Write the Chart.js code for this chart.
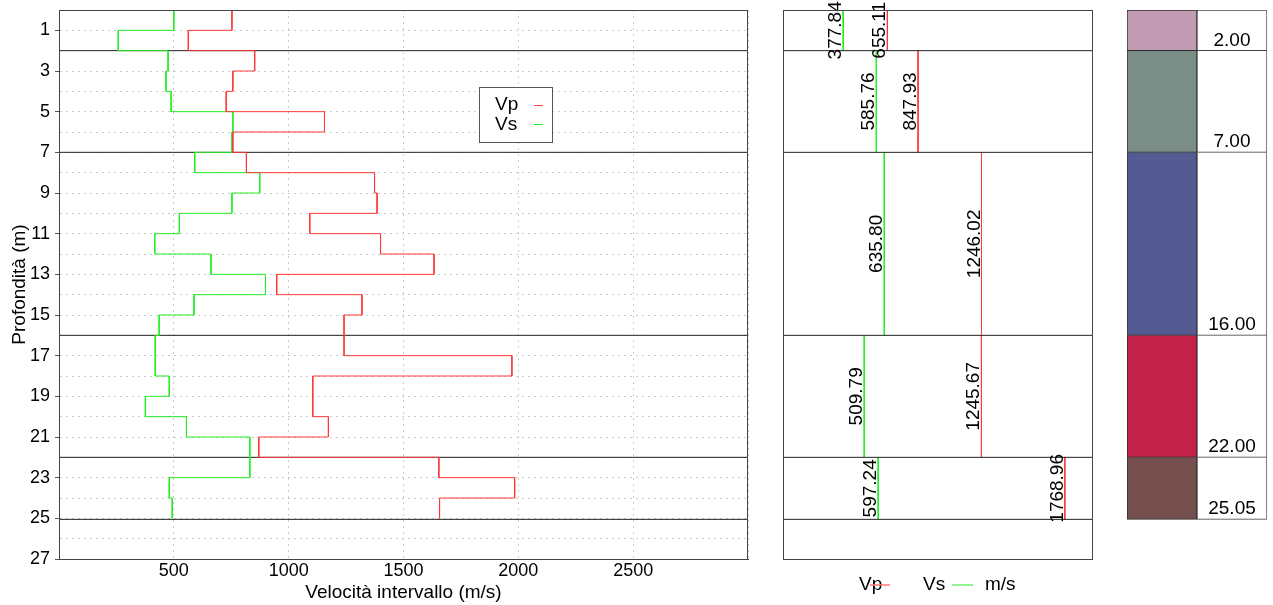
<!DOCTYPE html>
<html lang="it">
<head>
<meta charset="utf-8">
<title>Velocità intervallo</title>
<script src="https://cdn.jsdelivr.net/npm/chart.js@4.4.1/dist/chart.umd.min.js"></script>
<style>
  html, body { margin: 0; padding: 0; background: #fff; }
  #wrap { position: relative; width: 1273px; height: 605px; overflow: hidden; }
  canvas { position: absolute; top: 0; }
</style>
</head>
<body>
<div id="wrap">
  <canvas id="profilo" width="760" height="605" style="left:0"></canvas>
  <canvas id="medie" width="345" height="605" style="left:760px"></canvas>
  <canvas id="strati" width="168" height="605" style="left:1105px"></canvas>
</div>
<script>
// tetto di ogni intervallo da 1 m (m)
const depthTop = [0, 1, 2, 3, 4, 5, 6, 7, 8, 9, 10, 11, 12, 13, 14, 15, 16, 17, 18, 19, 20, 21, 22, 23, 24];
const vpInt = [753, 563, 852, 757, 728, 1156, 757, 816, 1374, 1385, 1092, 1400, 1633, 948, 1319, 1241, 1241, 1972, 1105, 1105, 1173, 870, 1654, 1984, 1657];
const vsInt = [500, 258, 475, 466, 488, 757, 753, 591, 874, 753, 524, 417, 662, 899, 588, 436, 419, 419, 480, 376, 555, 831, 831, 480, 493];

// strati
const layerBounds = [0, 2, 7, 16, 22, 25.05];
const vpLayer = [655.11, 847.93, 1246.02, 1245.67, 1768.96];
const vsLayer = [377.84, 585.76, 635.80, 509.79, 597.24];
const layerColors = ['#c29cb2', '#7a8e87', '#545b93', '#c3204a', '#744f4d'];

// etichette assi
const xTicks = [500, 1000, 1500, 2000, 2500];
const yTicks = [1, 3, 5, 7, 9, 11, 13, 15, 17, 19, 21, 23, 25, 27];

const RED = '#ff3838';
const GREEN = '#22ee22';
const FONT = "'Liberation Sans', Arial, sans-serif";
Chart.defaults.font.family = FONT;
Chart.defaults.font.size = 18;
Chart.defaults.color = '#000';

function stepPoints(vals) {
  const pts = [];
  vals.forEach((v, i) => {
    pts.push({ x: v, y: depthTop[i] });
    pts.push({ x: v, y: depthTop[i] + 1 });
  });
  return pts;
}

function lineDs(data, color) {
  return { data: data, showLine: true, borderColor: color, borderWidth: 1, pointRadius: 0, fill: false };
}

// cornice attorno all'area del grafico
const cornice = {
  id: 'cornice',
  afterDraw(chart) {
    const { ctx, chartArea: a } = chart;
    ctx.save();
    ctx.strokeStyle = '#444';
    ctx.lineWidth = 1;
    ctx.strokeRect(Math.round(a.left) + 0.5, Math.round(a.top) + 0.5,
      Math.round(a.right - a.left) - 1, Math.round(a.bottom - a.top));
    ctx.restore();
  }
};

// legenda interna del profilo
const legendaProfilo = {
  id: 'legendaProfilo',
  afterDatasetsDraw(chart) {
    const ctx = chart.ctx;
    ctx.save();
    ctx.fillStyle = '#fff';
    ctx.fillRect(480, 88, 73, 55);
    ctx.strokeStyle = '#555';
    ctx.lineWidth = 1;
    ctx.strokeRect(479.5, 87.5, 73, 55);
    ctx.font = '19px ' + FONT;
    ctx.fillStyle = '#000';
    ctx.textBaseline = 'alphabetic';
    chart.data.datasets.slice(0, 2).forEach((ds, i) => {
      ctx.fillText(ds.label, 495, 110 + i * 20);
      ctx.strokeStyle = ds.borderColor;
      ctx.beginPath();
      ctx.moveTo(534, 105.5 + i * 19);
      ctx.lineTo(543, 105.5 + i * 19);
      ctx.stroke();
    });
    ctx.restore();
  }
};

const boundaryLines = (xmax) => layerBounds.slice(1).map(b =>
  lineDs([{ x: 0, y: b }, { x: xmax, y: b }], '#222'));

// --- profilo Vp / Vs ---
new Chart(document.getElementById('profilo'), {
  type: 'scatter',
  data: {
    datasets: [
      Object.assign(lineDs(stepPoints(vpInt), RED), { label: 'Vp' }),
      Object.assign(lineDs(stepPoints(vsInt), GREEN), { label: 'Vs' }),
      ...boundaryLines(3000)
    ]
  },
  options: {
    responsive: false,
    animation: false,
    events: [],
    devicePixelRatio: 1,
    layout: { padding: { top: 10, right: 12, left: 0, bottom: 0 } },
    plugins: { legend: { display: false }, tooltip: { enabled: false } },
    scales: {
      x: {
        type: 'linear', min: 0, max: 3000,
        ticks: { stepSize: 500, padding: 0, font: { size: 18, lineHeight: 1 },
          callback: v => xTicks.includes(v) ? v : '' },
        grid: { color: '#cccccc', tickLength: 3, tickColor: 'rgba(0,0,0,0)' },
        border: { color: '#444', dash: [2, 4] },
        title: { display: true, text: 'Velocità intervallo (m/s)', font: { size: 19 }, padding: { top: 0, bottom: 1 } },
        afterFit: s => { s.height = 46; s.paddingLeft = 0; s.paddingRight = 0; }
      },
      y: {
        type: 'linear', reverse: true, min: 0, max: 27,
        ticks: { stepSize: 1, autoSkip: false, padding: 5,
          callback: v => yTicks.includes(v) ? v : '' },
        grid: { color: '#cccccc', tickLength: 4,
          tickColor: c => c.tick && yTicks.includes(c.tick.value) ? '#555' : 'rgba(0,0,0,0)' },
        border: { color: '#444', dash: [2, 4] },
        title: { display: true, text: 'Profondità (m)', font: { size: 19 }, padding: { top: 8, bottom: 0 } },
        afterFit: s => { s.width = 59; s.paddingTop = 0; s.paddingBottom = 0; }
      }
    }
  },
  plugins: [cornice, legendaProfilo]
});

// --- medie per strato ---
const xMaxMedie = Math.max(...vpLayer) * 1.1;

const etichetteMedie = {
  id: 'etichetteMedie',
  afterDatasetsDraw(chart) {
    const { ctx, scales: { x, y } } = chart;
    ctx.save();
    ctx.font = '19px ' + FONT;
    ctx.fillStyle = '#000';
    ctx.textAlign = 'center';
    ctx.textBaseline = 'alphabetic';
    [vsLayer, vpLayer].forEach(serie => serie.forEach((v, i) => {
      const px = x.getPixelForValue(v) - 2;
      const py = y.getPixelForValue((layerBounds[i] + layerBounds[i + 1]) / 2);
      ctx.save();
      ctx.translate(px, py);
      ctx.rotate(-Math.PI / 2);
      ctx.fillText(v.toFixed(2), 0, 0);
      ctx.restore();
    }));
    // legenda in basso
    ctx.textAlign = 'left';
    ctx.fillText('Vp', 99, 590);
    ctx.fillText('Vs', 163, 590);
    ctx.fillText('m/s', 225, 590);
    ctx.lineWidth = 1.5;
    ctx.strokeStyle = '#ff7a7a';
    ctx.beginPath(); ctx.moveTo(110, 585); ctx.lineTo(130, 585); ctx.stroke();
    ctx.strokeStyle = '#6cf06c';
    ctx.beginPath(); ctx.moveTo(192, 585); ctx.lineTo(213, 585); ctx.stroke();
    ctx.restore();
  }
};

const mediaDs = [];
layerBounds.slice(0, -1).forEach((top, i) => {
  const bot = layerBounds[i + 1];
  mediaDs.push(lineDs([{ x: vsLayer[i], y: top }, { x: vsLayer[i], y: bot }], GREEN));
  mediaDs.push(lineDs([{ x: vpLayer[i], y: top }, { x: vpLayer[i], y: bot }], RED));
});

new Chart(document.getElementById('medie'), {
  type: 'scatter',
  data: { datasets: [...boundaryLines(xMaxMedie), ...mediaDs] },
  options: {
    responsive: false,
    animation: false,
    events: [],
    devicePixelRatio: 1,
    layout: { padding: { top: 10, right: 12, left: 23, bottom: 46 } },
    plugins: { legend: { display: false }, tooltip: { enabled: false } },
    scales: {
      x: { type: 'linear', display: false, min: 0, max: xMaxMedie },
      y: { type: 'linear', display: false, reverse: true, min: 0, max: 27 }
    }
  },
  plugins: [cornice, etichetteMedie]
});

// --- colonna stratigrafica ---
const etichetteStrati = {
  id: 'etichetteStrati',
  afterDatasetsDraw(chart) {
    const { ctx, scales: { x, y } } = chart;
    ctx.save();
    ctx.font = '19px ' + FONT;
    ctx.fillStyle = '#000';
    ctx.textAlign = 'center';
    ctx.textBaseline = 'alphabetic';
    layerBounds.slice(1).forEach(b => {
      ctx.fillText(b.toFixed(2), x.getPixelForValue(1), y.getPixelForValue(b) - 5);
    });
    ctx.restore();
  }
};

new Chart(document.getElementById('strati'), {
  type: 'bar',
  data: {
    labels: ['colore', 'quota'],
    datasets: layerColors.map((c, i) => ({
      data: [[layerBounds[i], layerBounds[i + 1]], [layerBounds[i], layerBounds[i + 1]]],
      backgroundColor: [c, '#fff'],
      borderColor: ['#2a2a2a', '#444'],
      borderWidth: { left: 1, right: 1, bottom: 1, top: i === 0 ? 1 : 0 },
      borderSkipped: false,
      barPercentage: 1,
      categoryPercentage: 1,
      grouped: false
    }))
  },
  options: {
    responsive: false,
    animation: false,
    events: [],
    devicePixelRatio: 1,
    layout: { padding: { top: 10, right: 6, left: 22, bottom: 46 } },
    plugins: { legend: { display: false }, tooltip: { enabled: false } },
    scales: {
      x: { display: false },
      y: { type: 'linear', display: false, reverse: true, min: 0, max: 27 }
    }
  },
  plugins: [etichetteStrati]
});
</script>
</body>
</html>
